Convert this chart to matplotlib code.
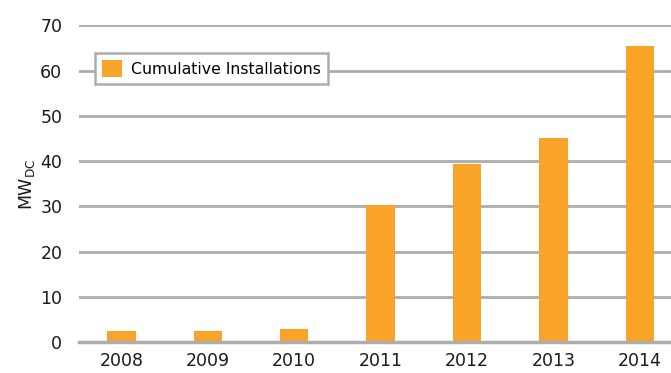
import matplotlib.pyplot as plt
import numpy as np

years = ["2008", "2009", "2010", "2011", "2012", "2013", "2014"]
cumulative_mw = [2.4, 2.4, 2.9, 30.4, 39.3, 45.1, 65.5]

bar_color = "#F9A328"
grid_color = "#ADADAD"
text_color = "#1a1a1a"

plt.rcParams["font.family"] = ["DejaVu Sans"]

fig = plt.figure(figsize=(6.71, 3.73), dpi=100)
ax = fig.add_axes([79 / 671, 1 - 342.3 / 373, 592 / 671, (342.3 - 25.3) / 373])

x = np.arange(len(years))
ax.bar(x, cumulative_mw, width=0.33, color=bar_color, zorder=3,
       label="Cumulative Installations")

ax.set_ylim(0, 70)
ax.set_xlim(-0.49, 6.36)
ax.set_yticks(range(0, 71, 10))
ax.set_xticks(x)
ax.set_xticklabels(years)

ax.yaxis.grid(True, color=grid_color, linewidth=2, zorder=0)
ax.set_axisbelow(True)
for side in ["top", "right", "left", "bottom"]:
    ax.spines[side].set_visible(False)
ax.axhline(0, color=grid_color, linewidth=2.5, zorder=4, clip_on=False)

ax.tick_params(axis="both", length=0, labelsize=12.5, colors=text_color)
ax.tick_params(axis="y", pad=12)
ax.tick_params(axis="x", pad=7)

ax.set_ylabel("MW$_{\\mathregular{DC}}$", fontsize=12.5, color=text_color, labelpad=2)

leg = ax.legend(loc="upper left", bbox_to_anchor=(16 / 592, (342.3 - 53) / 317),
                frameon=True, fancybox=False, fontsize=11.3, handlelength=1.25,
                handleheight=1.25, borderpad=0.45, handletextpad=0.6,
                borderaxespad=0)
leg.get_frame().set_edgecolor(grid_color)
leg.get_frame().set_linewidth(1.8)
leg.get_frame().set_facecolor("white")
leg.get_frame().set_alpha(1)

fig.savefig("out.png", dpi=100)
